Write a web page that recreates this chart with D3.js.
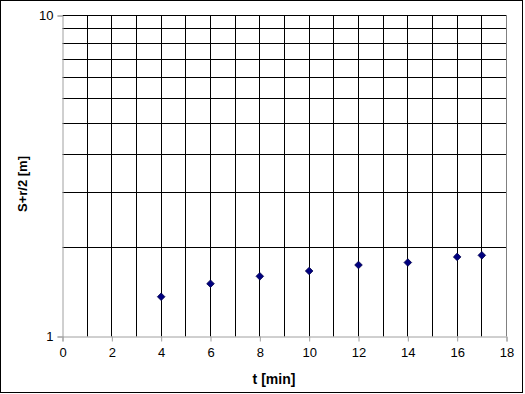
<!DOCTYPE html>
<html><head><meta charset="utf-8">
<script src="https://cdn.jsdelivr.net/npm/d3@7"></script>
<style>html,body{margin:0;padding:0;background:#fff;}svg{display:block;}</style>
</head><body>
<script>
const tValues = [4, 6, 8, 10, 12, 14, 16, 17];
const yValues = [1.33, 1.46, 1.54, 1.60, 1.67, 1.70, 1.77, 1.79];
const xTicks = [0, 2, 4, 6, 8, 10, 12, 14, 16, 18];
const xGrid = [1, 2, 3, 4, 5, 6, 7, 8, 9, 10, 11, 12, 13, 14, 15, 16, 17];
const yTicks = [1, 10];
const yGrid = [1.9, 2.8, 3.7, 4.6, 5.5, 6.4, 7.3, 8.2, 9.1, 10];
const xTitle = "t [min]";
const yTitle = "S+r/2 [m]";

const W = 525, H = 394;
const svg = d3.select("body").append("svg").attr("width", W).attr("height", H);
svg.append("rect").attr("x", 0.5).attr("y", 0.5).attr("width", 522).attr("height", 392)
  .attr("fill", "#fff").attr("stroke", "#000").attr("stroke-width", 1);

const x = d3.scaleLinear().domain([0, 18]).range([62.5, 506.5]);
const y = d3.scaleLog().domain([1, 10]).range([336.5, 15.5]);
const crisp = v => Math.round(v - 0.5) + 0.5;

const g = svg.append("g");
g.selectAll(".vg").data(xGrid).enter().append("line")
  .attr("x1", d => crisp(x(d))).attr("x2", d => crisp(x(d)))
  .attr("y1", y(10)).attr("y2", y(1))
  .attr("stroke", "#000").attr("stroke-width", 1);
g.selectAll(".hg").data(yGrid).enter().append("line")
  .attr("y1", d => crisp(y(d))).attr("y2", d => crisp(y(d)))
  .attr("x1", x(0)).attr("x2", x(18))
  .attr("stroke", "#000").attr("stroke-width", 1);
g.append("line").attr("x1", x(18)).attr("x2", x(18)).attr("y1", y(10)).attr("y2", y(1))
  .attr("stroke", "#808080");

const xAxis = d3.axisBottom(x).tickValues(xTicks).tickSize(5).tickPadding(3).tickFormat(d3.format("d"));
const yAxis = d3.axisLeft(y).tickValues(yTicks).tickSize(5).tickPadding(4).tickFormat(d3.format("d"));
const gx = svg.append("g").attr("transform", `translate(0,${y(1)})`).call(xAxis);
const gy = svg.append("g").attr("transform", `translate(${x(0)},0)`).call(yAxis);
[gx, gy].forEach(a => {
  a.select(".domain").attr("stroke", "#a0a0a0");
  a.selectAll(".tick line").attr("stroke", "#a0a0a0");
  a.selectAll(".tick text").attr("fill", "#000")
    .style("font-family", "Arial, 'Liberation Sans', sans-serif").style("font-size", "13px");
});
gx.selectAll(".tick text").attr("dy", "0.95em");

svg.append("g").selectAll("path").data(tValues).enter().append("path")
  .attr("d", "M0,-3.8L3.8,0L0,3.8L-3.8,0Z")
  .attr("transform", (d, i) => `translate(${x(d)},${y(yValues[i])})`)
  .attr("fill", "#000080").attr("stroke", "#00004a").attr("stroke-width", 0.8);

svg.append("text").attr("x", 274).attr("y", 384).attr("text-anchor", "middle")
  .style("font-family", "Arial, 'Liberation Sans', sans-serif").style("font-size", "14px")
  .style("font-weight", "bold").text(xTitle);
svg.append("text").attr("transform", "translate(27,184) rotate(-90)").attr("text-anchor", "middle")
  .style("font-family", "Arial, 'Liberation Sans', sans-serif").style("font-size", "13px")
  .style("font-weight", "bold").text(yTitle);
</script>
</body></html>
